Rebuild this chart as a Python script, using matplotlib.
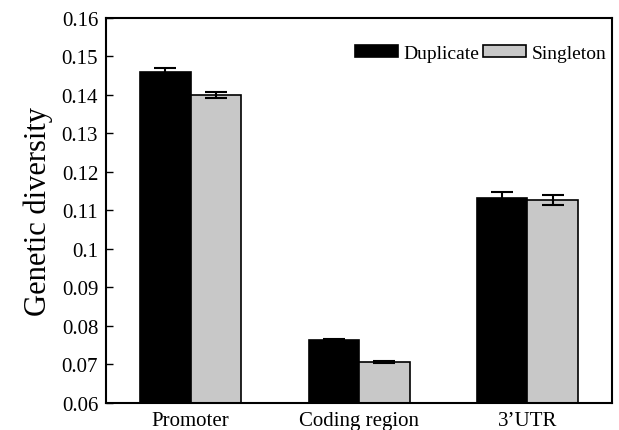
import numpy as np
import matplotlib.pyplot as plt

plt.rcParams['font.family'] = ['Liberation Serif', 'DejaVu Serif']

categories = ['Promoter', 'Coding region', '3\u2019UTR']
duplicate = [0.1460, 0.0763, 0.1131]
singleton = [0.1399, 0.0706, 0.1126]
duplicate_err = [0.0010, 0.0003, 0.0017]
singleton_err = [0.0008, 0.0003, 0.0013]

fig, ax = plt.subplots(figsize=(6.19, 4.31), dpi=100)
fig.subplots_adjust(left=0.172, right=0.988, top=0.956, bottom=0.063)

x = np.arange(len(categories)) + 0.5
w = 0.3
ax.bar(x - w / 2, duplicate, w, yerr=duplicate_err, color='black', edgecolor='black',
       linewidth=1.2, capsize=8, error_kw={'elinewidth': 1.5, 'capthick': 1.5},
       label='Duplicate')
ax.bar(x + w / 2, singleton, w, yerr=singleton_err, color='#c8c8c8', edgecolor='black',
       linewidth=1.2, capsize=8, error_kw={'elinewidth': 1.5, 'capthick': 1.5},
       label='Singleton')

ax.set_xlim(0, 3)
ax.set_ylim(0.06, 0.16)
ax.set_yticks(np.arange(0.06, 0.1601, 0.01))
ax.set_yticklabels(['0.06', '0.07', '0.08', '0.09', '0.1', '0.11', '0.12',
                    '0.13', '0.14', '0.15', '0.16'])
ax.set_xticks(x)
ax.set_xticklabels(categories)
ax.tick_params(axis='y', direction='in', length=5, width=1, labelsize=15, pad=6)
ax.tick_params(axis='x', length=0, labelsize=15, pad=6)
ax.set_ylabel('Genetic diversity', fontsize=22, labelpad=6)
for s in ax.spines.values():
    s.set_linewidth(1.5)

ax.legend(loc='upper right', frameon=False, fontsize=14, handlelength=2.2,
          handleheight=0.55, handletextpad=0.3, columnspacing=0.2, ncol=2,
          bbox_to_anchor=(1.025, 0.975))

plt.savefig('out.png')
